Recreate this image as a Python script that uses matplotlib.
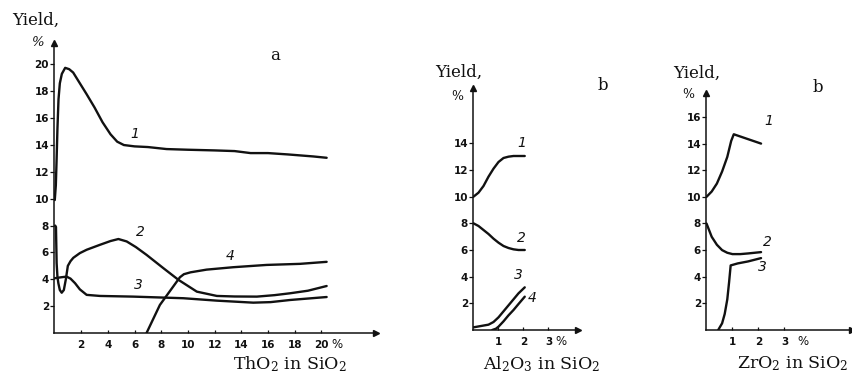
import matplotlib
matplotlib.use("Agg")
import matplotlib.pyplot as plt

plt.rcParams['mathtext.fontset'] = 'dejavuserif'

# ---------------- Panel a: ThO2 in SiO2 ----------------
a_x1 = [0.02, 0.1, 0.16, 0.22, 0.3, 0.4, 0.55, 0.8, 1.1, 1.4, 1.9, 2.4, 3.0, 3.6, 4.2, 4.7, 5.2, 6.0, 7.0,
        8.4, 10.0, 12.0, 13.5, 14.7, 16.0, 17.5, 19.4, 20.4]
a_y1 = [9.9, 11.0, 13.0, 15.2, 17.4, 18.6, 19.3, 19.75, 19.65, 19.4, 18.6, 17.8, 16.8, 15.7, 14.8, 14.25, 14.0,
        13.9, 13.85, 13.7, 13.65, 13.6, 13.55, 13.4, 13.4, 13.3, 13.15, 13.05]
a_x2 = [0.05, 0.11, 0.16, 0.22, 0.29, 0.4, 0.54, 0.7, 0.85, 1.0, 1.2, 1.41, 1.9, 2.41, 3.41, 4.2, 4.79, 5.41,
        6.1, 6.9, 8.16, 9.29, 10.67, 12.17, 13.5, 15.17, 16.5, 17.67, 19.0, 20.4]
a_y2 = [8.0, 7.9, 5.2, 4.2, 3.7, 3.2, 3.0, 3.2, 4.0, 5.0, 5.35, 5.6, 5.95, 6.2, 6.57, 6.85, 7.0, 6.82,
        6.4, 5.82, 4.83, 3.96, 3.08, 2.76, 2.72, 2.71, 2.82, 2.96, 3.15, 3.5]
a_x3 = [0.02, 0.5, 0.91, 1.2, 1.54, 1.9, 2.41, 3.41, 5.9, 9.66, 12.17, 14.9, 16.2, 17.67, 20.4]
a_y3 = [4.08, 4.15, 4.2, 4.05, 3.71, 3.25, 2.84, 2.76, 2.71, 2.59, 2.41, 2.26, 2.3, 2.46, 2.68]
a_x4 = [6.9, 7.9, 9.0, 9.4, 9.7, 10.2, 11.4, 13.4, 15.9, 18.4, 20.4]
a_y4 = [0.0, 2.09, 3.6, 4.15, 4.38, 4.52, 4.72, 4.9, 5.07, 5.15, 5.3]
a_xticks = [2, 4, 6, 8, 10, 12, 14, 16, 18, 20]
a_yticks = [2, 4, 6, 8, 10, 12, 14, 16, 18, 20]

# ---------------- Panel b: Al2O3 in SiO2 ----------------
b_x1 = [0.0, 0.2, 0.4, 0.6, 0.8, 1.0, 1.2, 1.4, 1.6, 1.8, 2.05]
b_y1 = [10.0, 10.3, 10.8, 11.5, 12.1, 12.6, 12.9, 13.0, 13.05, 13.05, 13.05]
b_x2 = [0.0, 0.2, 0.4, 0.6, 0.8, 1.0, 1.2, 1.4, 1.6, 1.8, 2.05]
b_y2 = [8.0, 7.8, 7.5, 7.2, 6.85, 6.55, 6.3, 6.15, 6.05, 6.0, 6.0]
b_x3 = [0.0, 0.3, 0.6, 0.8, 1.0, 1.2, 1.4, 1.6, 1.8, 2.05]
b_y3 = [0.2, 0.3, 0.4, 0.6, 0.95, 1.4, 1.85, 2.3, 2.75, 3.2]
b_x4 = [0.75, 0.9, 1.0, 1.2, 1.4, 1.6, 1.8, 2.05]
b_y4 = [0.0, 0.1, 0.25, 0.65, 1.1, 1.5, 1.95, 2.5]
b_xticks = [1, 2, 3]
b_yticks = [2, 4, 6, 8, 10, 12, 14]

# ---------------- Panel c: ZrO2 in SiO2 ----------------
c_x1 = [0.0, 0.2, 0.4, 0.6, 0.8, 0.95, 1.05, 1.5, 2.1]
c_y1 = [10.0, 10.4, 11.0, 11.9, 13.0, 14.2, 14.7, 14.4, 14.0]
c_x2 = [0.0, 0.2, 0.4, 0.6, 0.8, 1.0, 1.3, 1.6, 2.1]
c_y2 = [8.0, 7.0, 6.4, 6.0, 5.8, 5.7, 5.7, 5.75, 5.85]
c_x3 = [0.45, 0.6, 0.7, 0.8, 0.87, 0.93, 1.2, 1.6, 2.1]
c_y3 = [0.0, 0.5, 1.2, 2.3, 3.6, 4.85, 5.0, 5.15, 5.4]
c_xticks = [1, 2, 3]
c_yticks = [2, 4, 6, 8, 10, 12, 14, 16]

W, H = 853, 377
fig = plt.figure(figsize=(W / 100, H / 100), dpi=100)
fig.patch.set_facecolor('white')

INK = '#111111'
TICKFONT = dict(family=['DejaVu Sans'], size=7.5, weight='bold')
SERIF = ['DejaVu Serif']


def make_axes(left_px, right_px, base_px, top_px, xlim, ylim):
    ax = fig.add_axes([left_px / W, (H - base_px) / H, (right_px - left_px) / W, (base_px - top_px) / H])
    ax.set_xlim(*xlim)
    ax.set_ylim(*ylim)
    ax.patch.set_alpha(0)
    for s in ('top', 'right'):
        ax.spines[s].set_visible(False)
    for s in ('left', 'bottom'):
        ax.spines[s].set_linewidth(1.1)
        ax.spines[s].set_color(INK)
    ax.tick_params(axis='y', direction='out', length=3, width=0.9, pad=1, colors=INK)
    ax.tick_params(axis='x', direction='in', length=2, width=0.9, pad=5, colors=INK)
    ax.plot(1, 0, '>', color=INK, ms=4, transform=ax.get_yaxis_transform(), clip_on=False)
    ax.plot(0, 1, '^', color=INK, ms=4, transform=ax.get_xaxis_transform(), clip_on=False)
    return ax


def style_ticks(ax, xt, yt):
    ax.set_xticks(xt)
    ax.set_yticks(yt)
    ax.set_xticklabels([str(v) for v in xt], **TICKFONT)
    ax.set_yticklabels([str(v) for v in yt], **TICKFONT)


def pct(ax, x):
    # "%" sign placed on the same row as the x tick labels
    ax.annotate('%', xy=(x, 0), xycoords=('data', 'axes fraction'), xytext=(0, -8.5),
                textcoords='offset points', ha='center', va='center', fontsize=8.5, color=INK)


LW = 1.7

# Panel a
axa = make_axes(54.5, 376, 333, 43, (0, 24.1), (0, 21.6))
for xs, ys in ((a_x1, a_y1), (a_x2, a_y2), (a_x3, a_y3), (a_x4, a_y4)):
    axa.plot(xs, ys, color=INK, lw=LW, solid_capstyle='round', solid_joinstyle='round')
style_ticks(axa, a_xticks, a_yticks)
pct(axa, 21.2)
for lab, (x, y) in zip(['1', '2', '3', '4'], [(6.0, 14.8), (6.4, 7.5), (6.3, 3.6), (13.2, 5.7)]):
    axa.text(x, y, lab, ha='center', va='center', fontsize=10, style='italic', color=INK)

# Panel b
axb = make_axes(473.5, 578, 330, 88, (0, 4.18), (0, 18.15))
for xs, ys in ((b_x1, b_y1), (b_x2, b_y2), (b_x3, b_y3), (b_x4, b_y4)):
    axb.plot(xs, ys, color=INK, lw=LW, solid_capstyle='round', solid_joinstyle='round')
style_ticks(axb, b_xticks, b_yticks)
pct(axb, 3.5)
for lab, (x, y) in zip(['1', '2', '3', '4'], [(1.95, 14.0), (1.9, 6.9), (1.78, 4.1), (2.35, 2.4)]):
    axb.text(x, y, lab, ha='center', va='center', fontsize=10, style='italic', color=INK)

# Panel c
axc = make_axes(706.5, 852, 330, 93, (0, 5.6), (0, 17.8))
for xs, ys in ((c_x1, c_y1), (c_x2, c_y2), (c_x3, c_y3)):
    axc.plot(xs, ys, color=INK, lw=LW, solid_capstyle='round', solid_joinstyle='round')
style_ticks(axc, c_xticks, c_yticks)
pct(axc, 3.7)
for lab, (x, y) in zip(['1', '2', '3'], [(2.4, 15.7), (2.35, 6.6), (2.15, 4.7)]):
    axc.text(x, y, lab, ha='center', va='center', fontsize=10, style='italic', color=INK)

# Figure-level texts (pixel positions)
def ftext(px, py, s, **kw):
    fig.text(px / W, 1 - py / H, s, color=INK, **kw)

ftext(12, 20, 'Yield,', ha='left', va='center', fontsize=12, family=SERIF)
ftext(37, 43, '%', ha='center', va='center', fontsize=9.5, style='italic', family=SERIF)
ftext(275, 55, 'a', ha='center', va='center', fontsize=12, family=SERIF)
ftext(290, 364, r'ThO$_2$ in SiO$_2$', ha='center', va='center', fontsize=12.5, family=SERIF)

ftext(435, 72, 'Yield,', ha='left', va='center', fontsize=12, family=SERIF)
ftext(457, 97, '%', ha='center', va='center', fontsize=9, family=SERIF)
ftext(603, 85, 'b', ha='center', va='center', fontsize=12, family=SERIF)
ftext(542, 364, r'Al$_2$O$_3$ in SiO$_2$', ha='center', va='center', fontsize=12.5, family=SERIF)

ftext(673, 73, 'Yield,', ha='left', va='center', fontsize=12, family=SERIF)
ftext(688, 95, '%', ha='center', va='center', fontsize=9, family=SERIF)
ftext(818, 87, 'b', ha='center', va='center', fontsize=12, family=SERIF)
ftext(793, 364, r'ZrO$_2$ in SiO$_2$', ha='center', va='center', fontsize=12.5, family=SERIF)

fig.savefig('out.png', dpi=100, facecolor='white')
